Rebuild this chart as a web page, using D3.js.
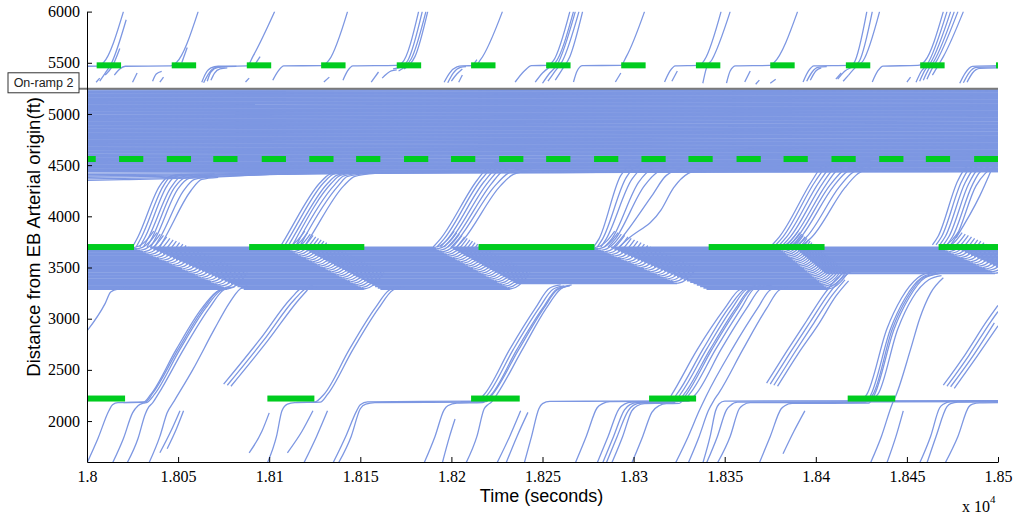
<!DOCTYPE html>
<html>
<head>
<meta charset="utf-8">
<script src="https://cdn.jsdelivr.net/npm/d3@7"></script>
<style>
  body { margin: 0; background: #fff; }
  svg { display: block; }
</style>
</head>
<body>
<svg id="chart" width="1014" height="516"></svg>
<script>
// Time-space diagram of vehicle trajectories along the EB arterial.
// Times below are seconds after T0; distances are feet from the arterial origin.
const T0 = 18000;

const timeTicks = [18000, 18050, 18100, 18150, 18200, 18250, 18300, 18350, 18400, 18450, 18500];
const distTicks = [2000, 2500, 3000, 3500, 4000, 4500, 5000, 5500, 6000];

// Signal indications at each stop line: [start, end] in seconds after T0
const sigRampFt = 5475;
const sigRamp = [[5.3,18.7],[46.5,59.9],[87.7,101.1],[128.5,141.9],[170,183.4],[210.8,224.2],[252,265.4],[293.2,306.6],[334.2,347.6],[375,388.4],[416.5,429.9],[457.3,470.7],[498.9,512]];
const sigUpperFt = 4560;
const sigUpper = [[-8.5,4.8],[17.6,30.9],[43.8,57.1],[69.3,82.6],[95.9,109.2],[122,135.3],[147.7,161],[174,187.3],[199.8,213.1],[226.2,239.5],[252,265.3],[278.3,291.6],[304.3,317.6],[330.1,343.4],[356.5,369.8],[382.3,395.6],[408.6,421.9],[434.8,448.1],[460.4,473.7],[486.9,500.2]];
const sigMidFt = 3700;
const sigMid = [[-37.6,25.8],[89,152.2],[214.9,278.5],[341.2,404.8],[467.4,530]];
const sigLowFt = 2220;
const sigLow = [[-10,20.9],[99,124.8],[210.8,237.5],[308.5,334.3],[417.5,443.6]];

// On-ramp 2 merge location
const rampFt = 5246;

// Trajectories above the on-ramp (t,d pairs)
const rampTraj = [
  "0,5466 6,5468 9,5500 20,6000","7,5320 10,5400 13,5480 21.5,5920","10,5380 14,5470 18,5640","5,5310 7,5350",
  "15,5380 18,5440 21,5466 46,5470 49,5500 61,6000","25,5310 27.5,5400","36,5320 38,5390 41,5415","40,5310 42,5360","52,5500 55,5650",
  "63,5310 65,5390 68,5450 72,5466 88,5470 91,5560 103,6000","64,5305 67,5400 70,5450 74,5462 82,5464","66,5320 68,5410 72,5455 76,5460","68,5330 70,5400 73,5440 77,5450",
  "87,5312 89,5350","92,5480 95,5560",
  "102,5330 105,5420 108,5470 129,5472 133,5530 143,6000","130,5312 133,5360",
  "140.5,5330 143,5420 146,5470 170,5475 173,5500 182,6000","156,5312 160,5410","162,5350 167,5420 170,5430",
  "168,5440 173,5465 176,5520 184,6000","171,5420 175,5470 178,5540 186,6000","174,5440 177,5480 180,5560 187,6000",
  "196,5310 199,5400 203,5460 206,5470 213,5472 216,5530 228,6000","198,5305 201,5400 205,5455 208,5462","200,5320 203,5390 206,5440","204,5310 206,5380","212,5480 214,5530",
  "235,5312 240,5420 244,5472 253,5475 256,5520 265,6000","246,5310 250,5400 254,5460 257,5500 267,6000","250,5300 254,5400 258,5480 268,6000",
  "253,5320 257,5420 261,5520 270,6000","257,5330 261,5440 265,5560 272,6000",
  "267,5312 269,5420 272,5472 293,5475 296,5560 306,6000","290,5312 293,5400",
  "317,5312 320,5420 323,5470 336,5474 339,5530 348,6000","321,5320 324,5420","338,5300 340,5450 343,5530 353,6000",
  "351,5302 353,5420 356,5470 375,5474 377,5500 390,6000","361,5312 364,5420","367,5290 369,5330","375,5300 378,5340",
  "393,5312 396,5420 399,5470 419,5474 421,5500 428,6000","395,5320 398,5410 401,5455 406,5462","397,5330 400,5420 403,5450",
  "411,5340 414,5400","415,5320 418,5380","412,5340 416,5420 421,5470 424,5520 431,6000","418,5380 422,5460 426,5520 435,6000",
  "431,5312 434,5420 437,5468 456,5474 460,5520 470,6000","450,5312 452,5360",
  "455,5310 458,5420 461,5480 472,6000","457,5320 460,5430 463,5500 474,6000","459,5330 462,5440 465,5520 476,6000",
  "461,5340 464,5450 467,5540 478,6000","464,5380 467,5470 470,5560 481,6000",
  "479,5300 482,5400 486,5465 500,5472","481,5305 484,5400 488,5455 500,5460","483,5310 486,5400 490,5445 500,5450"
];

// Congested section below the on-ramp: distance of each queued vehicle at the start and end of the window
const bandStartFt = [4446,4460,4473,4487,4500,4514,4527,4541,4554,4568,4581,4595,4608,4622,4636,4649,4663,4676,4690,4703,4717,4730,4744,4758,4771,4785,4798,4812,4825,4839,4852,4866,4880,4893,4907,4920,4934,4947,4961,4974,4988,5004,5018,5031,5045,5058,5072,5085,5099,5112,5126,5140,5153,5167,5180,5194,5207,5221,5236];
const bandEndFt   = [4455,4470,4484,4497,4511,4524,4538,4552,4565,4579,4592,4606,4619,4633,4647,4660,4674,4687,4701,4714,4728,4742,4755,4769,4782,4796,4809,4823,4837,4850,4864,4877,4891,4904,4918,4932,4945,4959,4972,4986,4999,5012,5027,5041,5054,5068,5081,5095,5108,5122,5135,5149,5162,5176,5190,5203,5217,5230,5240];
const bandTail = [
  "0,4352 20,4358 40,4366 60,4376 80,4392 100,4410 130,4428",
  "0,4366 30,4374 60,4386 90,4402 120,4418 160,4432 220,4438",
  "0,4380 40,4390 80,4404 120,4416 180,4428 260,4434 340,4438",
  "0,4394 60,4404 120,4414 200,4424 300,4430 420,4436 500,4440",
  "0,4408 80,4416 160,4422 260,4428 380,4434 500,4436",
  "0,4422 100,4428 220,4432 360,4436 500,4438",
  "0,4436 250,4441 500,4446"
];

// Platoons released from the 3700 ft queue toward the congested section
const upperClimb = [
  "25,3700 28,3800 40,4300 44,4380 50,4405 70,4415","27,3700 30,3800 42,4300 46,4390 52,4410","29,3700 32,3800 44,4300 48,4385 55,4405",
  "31,3700 34,3800 46,4280 51,4380 58,4400","33,3700 36,3800 48,4280 53,4370 62,4395","35,3700 38,3800 50,4270 56,4370 65,4390",
  "37,3700 41,3820 53,4250 59,4360 68,4385","40,3700 44,3830 57,4250 63,4360 72,4380",
  "106,3700 109,3790 128,4330 133,4410 140,4440 160,4450","108,3700 111,3790 130,4330 135,4410 143,4440","110,3700 113,3790 132,4320 137,4400 146,4435",
  "112,3690 115,3790 134,4320 139,4400 149,4430","114,3690 117,3790 136,4310 141,4395 152,4425","116,3680 119,3780 138,4300 143,4390 155,4420",
  "118,3670 122,3780 141,4300 147,4390 158,4420",
  "190,3700 194,3780 214,4350 220,4480 226,4530 240,4545","192,3700 196,3780 216,4350 222,4470 228,4520","194,3700 198,3780 218,4340 224,4460 230,4510",
  "196,3700 200,3780 220,4330 226,4450 233,4500","198,3700 202,3780 222,4320 228,4440 236,4490","200,3700 204,3780 224,4300 231,4420 240,4470",
  "203,3700 207,3780 227,4300 234,4410 244,4450",
  "278,3700 281,3780 293,4400 297,4480 304,4520 320,4540","280,3700 283,3780 296,4380 300,4470 308,4510","282,3700 285,3780 299,4360 304,4460 312,4500",
  "284,3700 288,3780 303,4340 309,4450 318,4490","286,3700 290,3780 306,4300 313,4430 322,4480","289,3700 293,3780 310,4200 318,4400 328,4470",
  "292,3700 297,3780 315,4060 322,4280 330,4420 338,4460",
  "376,3720 380,3800 398,4350 403,4480 410,4530 430,4545","378,3720 382,3800 400,4350 405,4470 412,4525","380,3720 384,3800 402,4340 407,4460 414,4520",
  "382,3720 386,3800 404,4330 409,4450 416,4515","384,3720 388,3800 406,4320 411,4440 418,4510","386,3720 390,3800 408,4310 414,4430 421,4500",
  "388,3720 392,3800 410,4300 416,4420 424,4495","390,3720 395,3800 413,4290 419,4410 427,4490","393,3720 398,3800 416,4280 422,4400 430,4480",
  "464,3720 467,3800 478,4350 482,4470 488,4520 500,4535","466,3720 469,3800 480,4340 484,4460 490,4515","468,3720 471,3800 482,4330 486,4450 492,4510",
  "470,3720 473,3800 484,4320 488,4440 495,4505","472,3720 475,3800 486,4310 490,4430 498,4500","474,3720 477,3800 488,4300 493,4420 500,4490",
  "477,3790 490,4200 497,4480"
];

// Queue at the 3700 ft stop line: queued positions (ft)
const midLevelsFt = [3695,3681,3667,3653,3639,3625,3611,3597,3583,3569,3555,3541,3527,3513,3499,3485,3471,3457,3443,3429,3415,3401,3387,3373,3359,3345,3331,3317,3303,3290];
// Discharge waves: [s when it leaves 3700 ft, s when it reaches the queue tail, tail position ft]
const midWaves = [[25,77,3290],[108,152,3290],[190,227,3340],[278,331,3290],[379,406,3300],[467,500,3430]];
// Tail of the queue in the interval before each wave (and after the last)
const midTailFt = [3290,3290,3290,3336,3290,3440,3440];
const midRefill = 9;

// Lower arterial: arrivals, queue at 2200 ft, and platoons moving up to the 3700 ft queue
const lowerTraj = [
  "0,1590 6,1830 12,2100 14,2160 17,2180 31,2185 35,2260 49,2700 63,3100 71,3260 77,3300",
  "14,1590 20,1830 25,2080 28,2150 31,2175 33,2183 37,2260 51,2700 65,3100 73,3270 79,3305",
  "22,1590 28,1830 32,2070 34,2140 36,2178 39,2260 53,2700 67,3100 75,3280 81,3310",
  "20,2180 32,2186 36,2270 50,2700 64,3100 72,3270 78,3300",
  "34,1590 40,1850 44,2080 48,2200 58,2500 70,2900 78,3150 84,3290 88,3320",
  "40,1690 46,1900 51,2100","44,1730 49,1920 53,2100",
  "0,2880 10,3150 13,3260 17,3290 24,3300",
  "75,2360 95,2800 112,3200 118,3300 124,3320","77,2350 97,2790 114,3190 120,3290 126,3310","79,2340 99,2780 116,3180 121,3280",
  "89,1690 96,1900 100,2080",
  "99,1590 104,1850 107,2100 110,2165 114,2180 128,2185 132,2260 146,2700 160,3100 168,3280 174,3310",
  "115,2182 125,2186 130,2260 144,2700 158,3100 166,3280 172,3310",
  "110,1690 118,1900 124,2100","119,1590 126,1850 132,2100",
  "135,1590 142,1850 148,2100 150,2160 154,2188 214,2195 218,2260 232,2700 246,3100 254,3300 260,3330",
  "138,1590 145,1850 150,2120 153,2165 158,2180 216,2185 220,2260 234,2700 248,3100 256,3290 262,3320",
  "185,1590 191,1850 196,2110 198,2150 203,2175 217,2180 222,2260 236,2700 250,3100 258,3290 264,3320",
  "195,1590 199,1850 202,2020",
  "208,1590 214,1850 218,2120 220,2160 222,2185 225,2260 239,2700 252,3100 260,3290 266,3330",
  "205,2190 219,2190 223,2270 237,2700 251,3110 258,3280 265,3320",
  "225,1590 232,1850 238,2100","230,1590 236,1850 242,2085",
  "240,1590 244,1850 248,2120 250,2170 254,2192 330,2196 334,2260 348,2700 362,3100 370,3300 376,3330",
  "268,1590 274,1850 280,2130 283,2170 287,2190 327,2195 331,2270 345,2700 359,3100 366,3290 372,3320",
  "280,1590 286,1850 292,2120 295,2165 299,2185 324,2190 328,2270 342,2700 356,3100 364,3290 370,3320",
  "283,1590 289,1850 295,2110 298,2160 302,2180 320,2185 324,2270 338,2700 352,3100 361,3290 367,3320",
  "285,1590 291,1850 297,2100 300,2155 304,2175 322,2180 326,2270 340,2700 354,3100 362,3285 368,3310",
  "288,1590 294,1850 299,2100 302,2150 306,2170 318,2175 321,2260 335,2700 350,3100 358,3280 365,3310",
  "299,1590 305,1850 310,2085 314,2150 318,2170 325,2172 329,2260 343,2700 357,3100 365,3290 372,3310",
  "323,1590 330,1850 336,2100 340,2250 354,2700 368,3100 375,3280 381,3310",
  "330,1590 336,1850 341,2100 344,2200 347,2280 360,2700 373,3100 380,3280 386,3310",
  "338,1590 342,1850 345,2100 347,2170 350,2195 500,2200",
  "340,1590 346,1850 351,2110 353,2150 357,2185 500,2190",
  "346,1590 353,1850 358,2120 360,2155 364,2180 427,2182 430,2250 441,2900 449,3200 458,3400 466,3450",
  "369,1590 375,1850 381,2120 383,2150 387,2172 429,2175 432,2250 443,2900 451,3200 460,3400 468,3440",
  "420,2185 424,2190 428,2260 439,2900 447,3200 456,3400 464,3460",
  "425,2188 431,2250 442,2900 450,3200 459,3400 467,3440",
  "428,2192 434,2260 445,2900 453,3200 462,3380 469,3420",
  "382,1680 388,1900 394,2100",
  "373,2370 384,2680 395,2980 405,3250 412,3400 418,3480","375,2360 386,2670 397,2970 407,3240 414,3390 420,3470",
  "377,2350 388,2660 399,2960 409,3230 416,3380","379,2340 390,2650 402,2960 411,3220 418,3370",
  "430,1590 436,1850 442,2170 444,2250 452,2700 457,3000 463,3250 470,3400",
  "439,1590 444,1850 448,2100",
  "457,1590 463,1850 468,2130 470,2165 474,2190 500,2195",
  "461,1590 466,1850 472,2140 474,2170 478,2185 500,2188",
  "471,1590 478,1850 484,2140 486,2165 490,2178 500,2180",
  "470,2350 482,2650 494,2980 500,3130","472,2340 484,2640 496,2970 500,3070","474,2335 486,2630 498,2960","476,2320 488,2620 500,2930"
];

// ---------------------------------------------------------------------------
const svg = d3.select("#chart");
const x = d3.scaleLinear().domain([18000, 18500]).range([87, 998]);
const y = d3.scaleLinear().domain([1600, 6000]).range([462, 11.6]);
const [xL, xR] = x.range();
const [yB, yT] = y.range();

const BLUE = "#7d97e2";
const GREEN = "#00cc1f";

svg.append("defs").append("clipPath").attr("id", "plotArea")
  .append("rect").attr("x", xL).attr("y", yT).attr("width", xR - xL).attr("height", yB - yT);

const parse = s => s.split(" ").map(p => { const [t, d] = p.split(",").map(Number); return [T0 + t, d]; });

// free-moving and platoon trajectories (thin)
const thin = [];
rampTraj.forEach(s => thin.push(parse(s)));
bandTail.forEach(s => thin.push(parse(s)));
upperClimb.forEach(s => thin.push(parse(s)));
lowerTraj.forEach(s => thin.push(parse(s)));

// densely queued trajectories (drawn slightly heavier so the stacked lanes read as a block)
const dense = [];
bandStartFt.forEach((d, i) => dense.push([[T0, d], [T0 + 500, bandEndFt[i]]]));

// queued vehicles at the 3700 ft stop line, each released when a discharge wave reaches it
const waveAt = (w, d) => w[0] + (w[1] - w[0]) * (3700 - d) / (3700 - w[2]);
midLevelsFt.forEach(d => {
  for (let r = 0; r <= midWaves.length; r++) {
    if (d < midTailFt[r]) continue;
    const t0 = r === 0 ? -5 : waveAt(midWaves[r - 1], d) + midRefill;
    const t1 = r === midWaves.length ? 505 : waveAt(midWaves[r], d);
    if (t1 > t0) dense.push([[T0 + t0, d], [T0 + t1, d]]);
    if (r < midWaves.length) {
      thin.push([[T0 + t1, d], [T0 + t1 + 3, d + 15], [T0 + t1 + 7, d + 70], [T0 + t1 + 11, d + 160]]);
    }
  }
});

const line = d3.line().x(p => x(p[0])).y(p => y(p[1])).curve(d3.curveMonotoneX);

const plot = svg.append("g").attr("clip-path", "url(#plotArea)");
plot.append("g")
  .attr("fill", "none").attr("stroke", BLUE).attr("stroke-width", 1.9)
  .selectAll("path").data(dense).join("path").attr("d", line);
plot.append("g")
  .attr("fill", "none").attr("stroke", BLUE).attr("stroke-width", 1.3)
  .selectAll("path").data(thin).join("path").attr("d", line);

// signal bars
const bars = [];
sigRamp.forEach(([a, b]) => bars.push({ a, b, d: sigRampFt }));
sigUpper.forEach(([a, b]) => bars.push({ a, b, d: sigUpperFt }));
sigMid.forEach(([a, b]) => bars.push({ a, b, d: sigMidFt }));
sigLow.forEach(([a, b]) => bars.push({ a, b, d: sigLowFt }));
plot.append("g").selectAll("rect")
  .data(bars)
  .join("rect")
  .attr("x", b => x(T0 + b.a))
  .attr("width", b => x(T0 + b.b) - x(T0 + b.a))
  .attr("y", b => y(b.d) - 3)
  .attr("height", 6)
  .attr("fill", GREEN);

// on-ramp marker
const boxW = 71, boxH = 20;
const boxRight = xL - 8;
svg.append("line")
  .attr("x1", boxRight).attr("x2", xR)
  .attr("y1", y(rampFt)).attr("y2", y(rampFt))
  .attr("stroke", "#7a7a7a").attr("stroke-width", 2);
svg.append("rect")
  .attr("x", boxRight - boxW).attr("y", y(rampFt) - 16)
  .attr("width", boxW).attr("height", boxH)
  .attr("fill", "#fff").attr("stroke", "#333").attr("stroke-width", 1);
svg.append("text")
  .attr("x", boxRight - boxW / 2).attr("y", y(rampFt) - 1.5)
  .attr("text-anchor", "middle")
  .attr("font-family", "Liberation Sans, Arial, sans-serif")
  .attr("font-size", 12.5).attr("fill", "#222")
  .text("On-ramp 2");

// axes
const serif = "Liberation Serif, Times New Roman, serif";
const yAxis = svg.append("g").attr("transform", `translate(${xL},0)`)
  .call(d3.axisLeft(y).tickValues(distTicks).tickSize(-5).tickSizeOuter(0).tickPadding(7).tickFormat(d3.format("d")));
const xAxis = svg.append("g").attr("transform", `translate(0,${yB})`)
  .call(d3.axisBottom(x).tickValues(timeTicks).tickSize(-5).tickSizeOuter(0).tickPadding(9)
    .tickFormat(v => String(+(v / 1e4).toFixed(4))));
[yAxis, xAxis].forEach(g => {
  g.selectAll("text").attr("font-family", serif).attr("font-size", 16).attr("fill", "#000");
  g.selectAll("line").attr("stroke", "#000");
  g.select(".domain").attr("stroke", "#000");
});

// axis titles
svg.append("text")
  .attr("x", (xL + xR) / 2 - 1).attr("y", 502)
  .attr("text-anchor", "middle")
  .attr("font-family", "Liberation Sans, Arial, sans-serif").attr("font-size", 18)
  .text("Time (seconds)");
svg.append("text")
  .attr("transform", `translate(40,${(yT + yB) / 2}) rotate(-90)`)
  .attr("text-anchor", "middle")
  .attr("font-family", "Liberation Sans, Arial, sans-serif").attr("font-size", 18.5)
  .text("Distance from EB Arterial origin(ft)");

// exponent label
const expo = svg.append("text").attr("x", xR - 36).attr("y", 512)
  .attr("font-family", serif).attr("font-size", 16);
expo.append("tspan").text("x 10");
expo.append("tspan").attr("dy", -9).attr("font-size", 11).text("4");
</script>
</body>
</html>
